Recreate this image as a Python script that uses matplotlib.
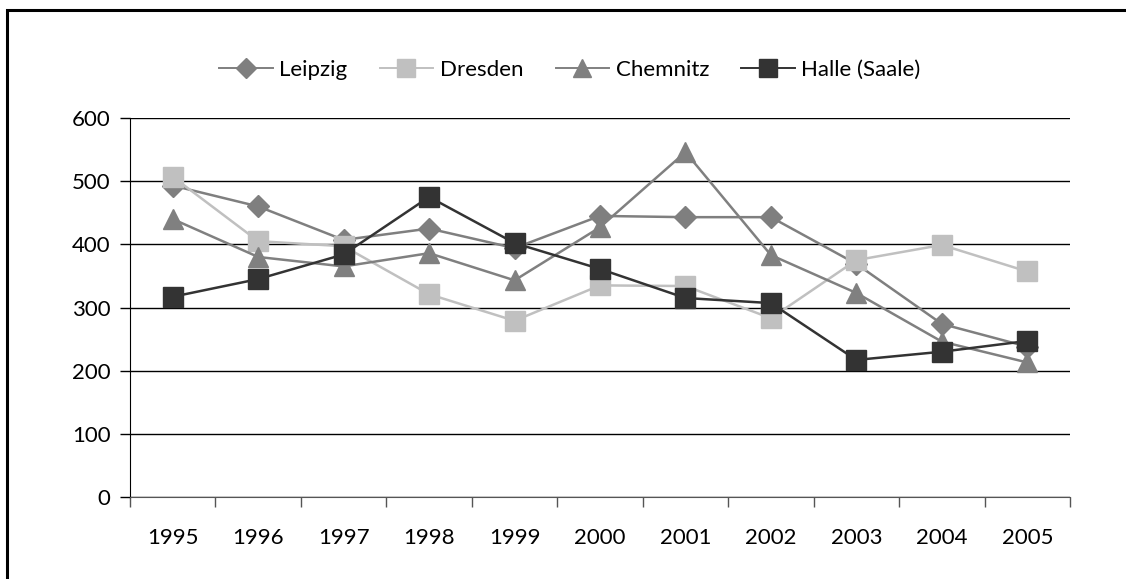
import matplotlib.pyplot as plt
from matplotlib.patches import Rectangle
from matplotlib.ticker import FixedLocator

plt.rcParams['font.family'] = ['Lato', 'DejaVu Sans']

years = ['1995', '1996', '1997', '1998', '1999', '2000', '2001', '2002', '2003', '2004', '2005']
leipzig = [493, 460, 407, 425, 394, 445, 443, 443, 369, 274, 238]
dresden = [507, 405, 397, 321, 279, 335, 334, 283, 375, 399, 357]
chemnitz = [440, 380, 365, 386, 343, 427, 546, 383, 323, 246, 213]
halle = [317, 345, 384, 475, 402, 361, 315, 307, 217, 230, 247]

x = list(range(len(years)))

fig = plt.figure(figsize=(11.26, 5.79), dpi=100)
ax = fig.add_axes([130/1126, 1 - 497/579, 940/1126, 379/579])

ax.plot(x, leipzig, color='#7f7f7f', lw=1.8, marker='D', ms=11, label='Leipzig')
ax.plot(x, dresden, color='#c0c0c0', lw=1.8, marker='s', ms=14, label='Dresden')
ax.plot(x, chemnitz, color='#808080', lw=1.8, marker='^', ms=15, label='Chemnitz')
ax.plot(x, halle, color='#333333', lw=1.8, marker='s', ms=14, label='Halle (Saale)')

ax.set_xlim(-0.5, len(years) - 0.5)
ax.set_ylim(0, 600)
ax.set_yticks(range(0, 601, 100))
ax.set_xticks(x)
ax.set_xticklabels(years)
ax.xaxis.set_minor_locator(FixedLocator([i - 0.5 for i in range(len(years) + 1)]))
ax.tick_params(axis='x', which='major', length=0, pad=22, labelsize=16)
ax.tick_params(axis='x', which='minor', length=7, width=1, color='#555555', direction='out')
ax.tick_params(axis='y', length=7, width=1, color='black', labelsize=16, pad=7)
ax.grid(axis='y', color='black', lw=1)
ax.set_axisbelow(True)
for s in ['top', 'right']:
    ax.spines[s].set_visible(False)
ax.spines['left'].set_color('black')
ax.spines['bottom'].set_color('#555555')

leg = fig.legend(loc='center', bbox_to_anchor=(570/1126, 1 - 70/579), ncol=4, frameon=False,
                 fontsize=16, handlelength=2.4, columnspacing=1.45, handletextpad=0.3,
                 markerscale=0.9)
for h in leg.legend_handles:
    h.set_linewidth(1.4)

fig.patches.append(Rectangle((7/1126, -0.1), 1.2, 1.1 - 10/579, transform=fig.transFigure,
                             fill=False, ec='black', lw=2.2))

fig.savefig('out.png', dpi=100)
